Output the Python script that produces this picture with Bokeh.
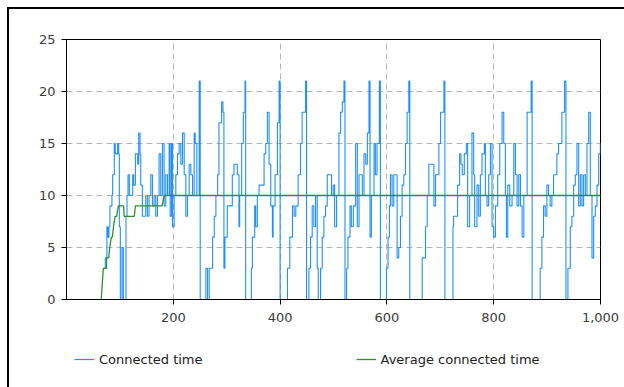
from bokeh.plotting import figure
from bokeh.layouts import column
from bokeh.models import Legend, LegendItem, FixedTicker, NumeralTickFormatter, Range1d
from bokeh.embed import file_html
from bokeh.resources import INLINE

# Connected time (blue series): time, value
conn_t = [68.9, 72.6, 75.7, 77.6, 79.5, 81.4, 85.1, 86.4, 89.5, 91.4, 93.9, 95.8, 97.7, 98.9, 100.8, 103.9, 106.4,
          111.4, 113.3, 115.2, 117.7, 120.8, 124.0, 125.8, 129.0, 131.5, 133.3, 135.2, 137.7,
          139.0, 142.1, 145.2, 148.4, 151.5, 154.6, 157.8, 160.9, 164.0, 167.1, 170.3, 173.4, 176.5, 179.7,
          182.8, 185.9, 189.1, 192.2, 194.1, 196.6, 198.4, 201.6, 204.7, 207.8, 211.0, 214.1, 217.2, 220.4,
          223.5, 226.6, 229.7, 232.9, 236.0, 239.1, 241.0, 244.1, 248.5, 250.4, 254.8, 261.0, 264.2, 267.3,
          270.4, 273.6, 276.7, 279.8, 283.0,
          285.5, 290.5, 293.0, 294.8, 296.7, 301.1, 307.4, 310.5, 313.6, 319.9, 323.0, 324.3, 328.0, 331.1,
          334.3, 335.5, 341.8, 346.2, 348.1, 352.4, 354.3, 357.4, 360.6, 366.8, 370.0, 373.1, 376.2, 379.4,
          382.5, 385.6, 386.9, 390.6, 395.0, 398.1, 400.0, 407.5, 413.8, 418.2, 423.2, 426.3, 429.4,
          431.9, 433.8, 438.2, 441.3, 445.7, 447.6, 449.5, 453.9, 457.0, 460.1, 463.2, 466.4, 469.5, 471.4,
          475.8, 478.9, 482.0, 485.2, 488.3, 494.5, 496.4, 499.5, 502.1, 505.8, 510.2, 513.3, 516.5, 519.6,
          521.5, 524.6, 527.1, 530.9, 533.4, 537.1, 541.5, 544.6, 547.8, 554.0, 557.1, 560.3, 563.4, 566.5,
          568.4, 570.9, 575.9,
          578.4, 581.5, 585.9, 587.8, 597.2, 599.1, 602.2, 604.7, 606.6, 609.7, 612.9, 617.2, 619.1, 622.2,
          625.4, 628.5, 631.6, 634.8, 637.9, 641.0, 642.9, 659.8, 666.1, 672.3, 675.5, 678.6, 684.8, 688.0,
          691.1, 697.4, 700.5, 703.6, 706.8, 708.6, 717.4, 723.7,
          724.9, 728.0, 732.4, 736.2, 738.7, 741.2, 744.9, 748.7, 751.2, 755.0, 759.3, 762.5, 764.3, 768.7,
          771.9, 775.0, 778.1, 782.5, 784.4, 787.5, 790.6, 793.8, 796.9, 800.0, 803.2, 807.5, 811.3, 815.7,
          818.8, 821.9, 823.8, 826.3, 830.1, 834.4, 837.6, 840.7, 843.8, 847.0, 850.1, 853.2, 856.4, 862.6,
          867.6, 870.1, 872.0,
          883.9, 887.0, 890.2, 893.3, 896.4, 899.6, 902.7, 905.8, 909.0, 912.1, 915.2, 918.3, 921.5, 924.6,
          927.7, 930.9, 932.7, 935.3, 939.0, 943.4, 946.5, 949.7, 952.8, 955.9, 959.1, 962.2, 965.3, 968.4,
          971.6, 974.7, 977.8, 980.9, 984.1, 987.2, 990.3, 993.5, 996.6, 999.7]
conn_v = [3, 4, 7, 6, 7, 9, 10, 12, 15, 14, 14, 15, 14, 7, 0, 5, 0,
          8, 10, 12, 10, 10, 12, 11, 14, 14, 13, 16, 14,
          11, 8, 8, 10, 8, 10, 12, 9, 10, 8, 10, 14, 10, 15,
          9, 12, 10, 15, 8, 15, 7, 10, 12, 14, 15, 13, 16, 12,
          8, 10, 13, 12, 10, 16, 15, 10, 21, 0, 0, 3, 0, 3,
          3, 6, 8, 10, 12,
          17, 19, 18, 3, 6, 9, 9, 12, 13, 12, 7, 10, 15, 18,
          21, 0, 0, 3, 6, 9, 7, 10, 11, 11, 14, 15, 18, 13,
          9, 6, 9, 12, 17, 21, 0, 0, 3, 6, 9, 8, 9,
          9, 12, 15, 18, 18, 21, 0, 3, 6, 9, 7, 10, 3, 0,
          3, 6, 8, 9, 12, 12, 10, 11, 7, 10, 16, 18, 19, 21,
          0, 3, 6, 9, 7, 9, 15, 7, 12, 10, 14, 13, 16, 21,
          6, 10, 15,
          12, 15, 21, 0, 0, 3, 6, 9, 12, 9, 12, 12, 4, 5,
          8, 11, 12, 15, 18, 21, 0, 0, 4, 7, 10, 13, 13, 9,
          12, 15, 18, 18, 21, 0, 0, 7,
          8, 8, 11, 14, 13, 12, 14, 15, 7, 10, 16, 12, 7, 11,
          8, 12, 14, 15, 10, 9, 12, 15, 7, 6, 9, 12, 15, 18,
          15, 10, 6, 11, 9, 10, 15, 12, 9, 12, 9, 6, 10, 18,
          18, 21, 0,
          0, 3, 6, 9, 8, 11, 10, 9, 10, 12, 12, 14, 15, 15,
          18, 18, 21, 0, 3, 7, 8, 11, 12, 15, 9, 12, 9, 12,
          10, 15, 18, 10, 4, 8, 9, 11, 14, 15]

# Average connected time (green series)
avg_t = [65, 69, 75, 75, 79, 81, 84, 86, 88, 91, 94, 97, 107, 108, 127, 129, 179, 183, 1000]
avg_v = [0, 3, 3, 4, 4, 5, 6, 6, 7, 8, 8, 9, 9, 8, 8, 9, 9, 10, 10]

series_names = ["Connected time", "Average connected time"]
x_ticks = [200, 400, 600, 800, 1000]
y_ticks = [0, 5, 10, 15, 20, 25]

FONT = "DejaVu Sans"
BLUE = "#1e90ff"
GREEN = "#2f8f2f"

p = figure(width=615, height=320, output_backend="svg", toolbar_location=None,
           x_range=Range1d(0, 1000), y_range=Range1d(0, 25),
           min_border_left=57, min_border_right=24, min_border_top=30, min_border_bottom=30)
p.background_fill_color = "white"
p.border_fill_color = "white"
p.outline_line_color = "black"
p.outline_line_width = 1

p.step(conn_t, conn_v, mode="after", line_color=BLUE, line_width=1.1)
p.line(avg_t, avg_v, line_color=GREEN, line_width=1.3)

for ax in (p.xaxis, p.yaxis):
    ax.axis_line_color = "black"
    ax.major_tick_line_color = "black"
    ax.minor_tick_line_color = None
    ax.major_tick_in = 0
    ax.major_tick_out = 5
    ax.major_label_text_font = FONT
    ax.major_label_text_font_size = "13px"
    ax.major_label_text_color = "#3c3c3c"

p.xaxis.ticker = FixedTicker(ticks=x_ticks)
p.xaxis.formatter = NumeralTickFormatter(format="0,0")
p.xaxis.major_label_standoff = 8
p.yaxis.ticker = FixedTicker(ticks=y_ticks)
p.yaxis.major_label_standoff = 6

for g in (p.xgrid, p.ygrid):
    g.grid_line_color = "#b4b4b4"
    g.grid_line_dash = "6 4"
    g.grid_line_width = 1

# legend strip below the chart (its ranges keep the series out of view; only the legend shows)
q = figure(width=615, height=58, output_backend="svg", toolbar_location=None,
           x_range=Range1d(-2, -1), y_range=Range1d(-2, -1),
           min_border_left=0, min_border_right=0, min_border_top=0, min_border_bottom=0)
q.axis.visible = False
q.grid.visible = False
q.outline_line_color = None
q.background_fill_color = "white"
q.border_fill_color = "white"
l1 = q.line(conn_t, conn_v, line_color=BLUE, line_width=1.2)
l2 = q.line(avg_t, avg_v, line_color=GREEN, line_width=1.3)

legend = Legend(items=[LegendItem(label=series_names[0], renderers=[l1]),
                       LegendItem(label=series_names[1], renderers=[l2])],
                orientation="horizontal", location=(8, 18), spacing=153,
                glyph_width=20, glyph_height=20, label_standoff=5,
                padding=0, margin=0, border_line_alpha=0, background_fill_alpha=0,
                label_text_font=FONT, label_text_font_size="13px", label_text_color="#222222")
q.add_layout(legend)

layout = column(p, q, spacing=0,
                styles={"border-left": "2px solid #000000", "border-top": "2px solid #000000",
                        "margin-left": "7px", "margin-top": "7px"})

open("out.html", "w").write(file_html(layout, INLINE))
